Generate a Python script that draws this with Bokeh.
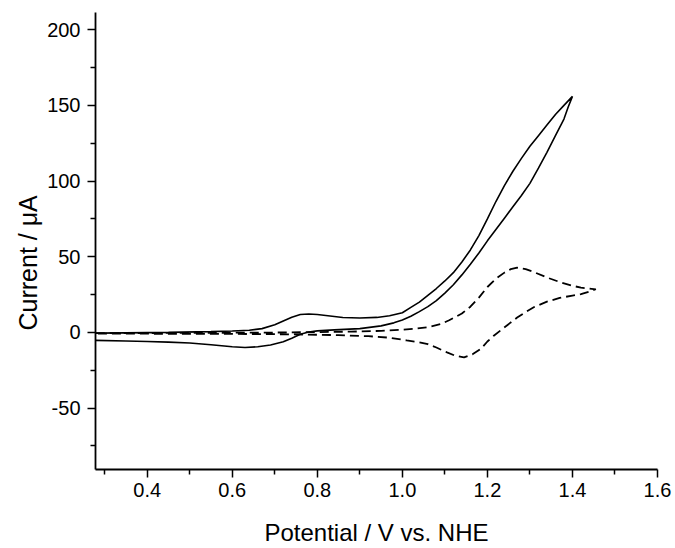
from bokeh.plotting import figure
from bokeh.models import FixedTicker, Range1d, PrintfTickFormatter, Title
from bokeh.embed import file_html
from bokeh.resources import INLINE

# Solid CV: forward (anodic) scan then reverse scan
solid_fwd_x = [0.279, 0.35, 0.45, 0.55, 0.60, 0.64, 0.67, 0.70, 0.72, 0.74, 0.76, 0.78, 0.80, 0.83,
               0.86, 0.90, 0.94, 0.97, 1.00, 1.02, 1.04, 1.06, 1.08, 1.10, 1.12, 1.14, 1.16, 1.18,
               1.20, 1.22, 1.24, 1.26, 1.28, 1.30, 1.32, 1.34, 1.36, 1.38, 1.40]
solid_fwd_y = [-0.5, -0.3, 0.0, 0.5, 0.9, 1.4, 2.5, 5.0, 7.5, 10.0, 11.8, 12.2, 11.8, 10.8,
               9.8, 9.5, 9.9, 11.0, 13.0, 16.5, 20.0, 24.5, 29.0, 34.0, 39.5, 46.5, 54.5, 64.0,
               75.0, 86.5, 97.0, 106.5, 115.0, 123.0, 130.0, 137.0, 144.0, 150.0, 156.0]
solid_rev_x = [1.40, 1.39, 1.38, 1.36, 1.34, 1.32, 1.30, 1.28, 1.26, 1.24, 1.22, 1.20, 1.18, 1.16,
               1.14, 1.12, 1.10, 1.08, 1.06, 1.04, 1.02, 1.00, 0.98, 0.95, 0.90, 0.84, 0.80, 0.78,
               0.76, 0.74, 0.72, 0.69, 0.66, 0.63, 0.60, 0.55, 0.50, 0.45, 0.40, 0.35, 0.279]
solid_rev_y = [156.0, 149.0, 141.0, 130.0, 119.0, 108.5, 98.5, 90.5, 83.0, 75.5, 68.0, 60.5, 52.5, 45.0,
               38.0, 31.5, 26.0, 21.0, 17.0, 13.7, 10.7, 8.2, 6.3, 4.3, 2.5, 1.7, 1.0, 0.3,
               -1.2, -3.8, -6.2, -8.3, -9.5, -10.0, -9.5, -8.2, -7.0, -6.4, -6.0, -5.7, -5.3]

# Dashed CV: forward scan then reverse scan
dash_fwd_x = [0.279, 0.40, 0.50, 0.60, 0.70, 0.80, 0.88, 0.95, 1.00, 1.03, 1.06, 1.09, 1.11, 1.14,
              1.16, 1.18, 1.20, 1.22, 1.24, 1.255, 1.27, 1.29, 1.31, 1.34, 1.37, 1.40, 1.42, 1.455]
dash_fwd_y = [-0.5, -0.4, -0.3, -0.2, -0.1, 0.2, 0.5, 1.0, 1.8, 2.4, 3.5, 5.5, 8.0, 12.5,
              17.0, 23.0, 30.0, 35.5, 39.5, 41.8, 42.8, 41.8, 39.8, 36.3, 33.3, 30.8, 29.6, 28.5]
dash_rev_x = [1.455, 1.44, 1.42, 1.40, 1.37, 1.34, 1.31, 1.29, 1.27, 1.255, 1.235, 1.215, 1.20, 1.185,
              1.165, 1.145, 1.125, 1.105, 1.08, 1.06, 1.035, 1.01, 0.97, 0.92, 0.85, 0.75, 0.60, 0.45, 0.279]
dash_rev_y = [28.5, 27.0, 25.3, 24.3, 22.8, 20.3, 16.8, 13.5, 9.8, 6.6, 2.2, -2.2, -6.0, -10.8,
              -14.5, -16.5, -15.5, -13.2, -10.0, -7.8, -6.3, -5.3, -3.5, -2.5, -1.8, -1.3, -1.0, -0.9, -0.8]

x_major = [0.4, 0.6, 0.8, 1.0, 1.2, 1.4, 1.6]
x_minor = [0.3, 0.5, 0.7, 0.9, 1.1, 1.3, 1.5]
y_major = [-50, 0, 50, 100, 150, 200]
y_minor = [-75, -25, 25, 75, 125, 175]

x_title = "Potential / V vs. NHE"
y_title = "Current / \u03bcA"

FONT = "Liberation Sans"

p = figure(width=675, height=548, output_backend="svg", toolbar_location=None,
           x_range=Range1d(0.2784, 1.6), y_range=Range1d(-90.6, 211.4),
           min_border_left=95, min_border_right=18, min_border_top=12, min_border_bottom=77)
p.outline_line_color = None
p.grid.visible = False
p.background_fill_color = "white"
p.border_fill_color = "white"

p.line(solid_fwd_x + solid_rev_x, solid_fwd_y + solid_rev_y, line_color="black", line_width=1.6)
p.line(dash_fwd_x + dash_rev_x, dash_fwd_y + dash_rev_y, line_color="black", line_width=1.8,
       line_dash="9 5")

p.xaxis.ticker = FixedTicker(ticks=x_major, minor_ticks=x_minor)
p.yaxis.ticker = FixedTicker(ticks=y_major, minor_ticks=y_minor)
p.xaxis.formatter = PrintfTickFormatter(format="%.1f")
p.yaxis.formatter = PrintfTickFormatter(format="%d")
p.xaxis.axis_label = x_title

for ax in (p.xaxis[0], p.yaxis[0]):
    ax.axis_line_color = "black"
    ax.axis_line_width = 1.8
    ax.major_tick_line_color = "black"
    ax.major_tick_line_width = 1.5
    ax.minor_tick_line_color = "black"
    ax.minor_tick_line_width = 1.5
    ax.major_tick_in = 0
    ax.major_tick_out = 8
    ax.minor_tick_in = 0
    ax.minor_tick_out = 5
    ax.major_label_text_font = FONT
    ax.major_label_text_font_size = "20px"
    ax.major_label_text_color = "black"
    ax.axis_label_text_font = FONT
    ax.axis_label_text_font_size = "24px"
    ax.axis_label_text_font_style = "normal"
    ax.axis_label_text_color = "black"

p.xaxis.major_label_standoff = 5
p.xaxis.axis_label_standoff = 19
p.yaxis.major_label_standoff = 7

# y-axis title as a side title, shifted along the axis like the reference
p.add_layout(Title(text=y_title, align="left", offset=139, standoff=6,
                   text_font=FONT, text_font_size="25px", text_font_style="normal",
                   text_color="black"), "left")

open("out.html", "w").write(file_html(p, INLINE))
